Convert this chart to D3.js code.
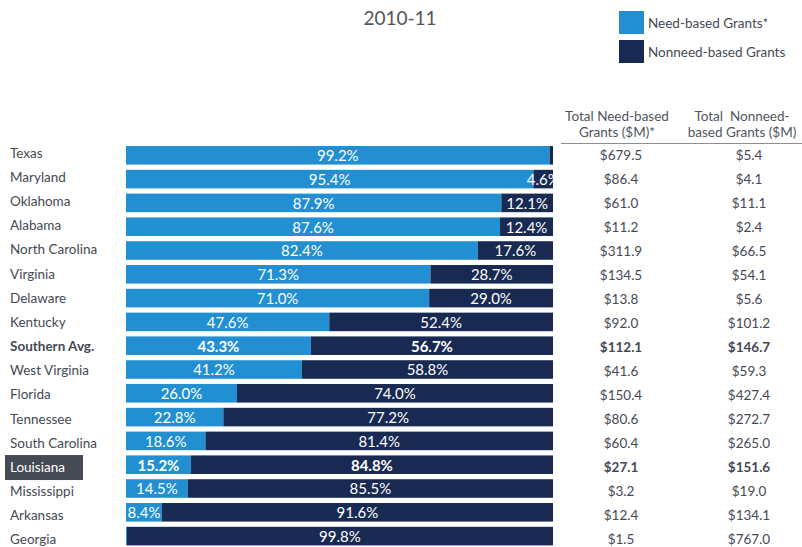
<!DOCTYPE html>
<html>
<head>
<meta charset="utf-8">
<script src="https://cdn.jsdelivr.net/npm/d3@7"></script>
<style>
  body { margin: 0; background: #fff; }
  svg { display: block; font-family: Lato, "Open Sans", sans-serif; }
</style>
</head>
<body>
<svg id="chart" width="802" height="547"></svg>
<script>
// data
const states = ["Texas", "Maryland", "Oklahoma", "Alabama", "North Carolina", "Virginia", "Delaware",
  "Kentucky", "Southern Avg.", "West Virginia", "Florida", "Tennessee", "South Carolina", "Louisiana",
  "Mississippi", "Arkansas", "Georgia"];
const needPct = [99.2, 95.4, 87.9, 87.6, 82.4, 71.3, 71.0, 47.6, 43.3, 41.2, 26.0, 22.8, 18.6, 15.2, 14.5, 8.4, 0.2];
const nonneedPct = [0.8, 4.6, 12.1, 12.4, 17.6, 28.7, 29.0, 52.4, 56.7, 58.8, 74.0, 77.2, 81.4, 84.8, 85.5, 91.6, 99.8];
const needTotal = ["$679.5", "$86.4", "$61.0", "$11.2", "$311.9", "$134.5", "$13.8", "$92.0", "$112.1", "$41.6",
  "$150.4", "$80.6", "$60.4", "$27.1", "$3.2", "$12.4", "$1.5"];
const nonneedTotal = ["$5.4", "$4.1", "$11.1", "$2.4", "$66.5", "$54.1", "$5.6", "$101.2", "$146.7", "$59.3",
  "$427.4", "$272.7", "$265.0", "$151.6", "$19.0", "$134.1", "$767.0"];
const seriesNames = ["Need-based Grants*", "Nonneed-based Grants"];
const boldRows = ["Southern Avg.", "Louisiana"];
const highlight = "Louisiana";

const colors = ["#218fd2", "#192a52"];
const textCol = "#444a54";

const svg = d3.select("#chart");

const rows = states.map((s, i) => ({
  state: s, need: needPct[i], non: nonneedPct[i], needT: needTotal[i], nonT: nonneedTotal[i],
  bold: boldRows.includes(s)
}));

const x = d3.scaleLinear().domain([0, 100]).range([126, 553]);
const y = d3.scaleBand().domain(states).range([143.4, 548]).paddingInner(0.22).paddingOuter(0.11);
// row labels and table cells sit on a slightly different pitch than the bars
const yLabel = d3.scalePoint().domain(states).range([153, 539.5]);
const yTable = d3.scalePoint().domain(states).range([155, 539.5]);

// title
svg.append("text")
  .attr("x", 400).attr("y", 25)
  .attr("text-anchor", "middle")
  .attr("font-size", 19)
  .attr("fill", "#50555d")
  .text("2010-11");

// legend
const legend = svg.append("g");
seriesNames.forEach((name, i) => {
  legend.append("rect")
    .attr("x", 619).attr("y", 11 + i * 29)
    .attr("width", 25).attr("height", 23)
    .attr("fill", colors[i]);
  legend.append("text")
    .attr("x", 648).attr("y", 27.5 + i * 29)
    .attr("font-size", 13.5)
    .attr("fill", textCol)
    .text(name);
});

// table header
const header = svg.append("g").attr("font-size", 13.5).attr("fill", "#4f5560").attr("text-anchor", "middle");
header.append("text").attr("x", 617).attr("y", 121).text("Total Need-based");
header.append("text").attr("x", 617).attr("y", 137).text("Grants ($M)*");
header.append("text").attr("x", 742).attr("y", 121).attr("xml:space", "preserve").text("Total  Nonneed-");
header.append("text").attr("x", 742).attr("y", 137).text("based Grants ($M)");
svg.append("line")
  .attr("x1", 561).attr("x2", 802).attr("y1", 143.5).attr("y2", 143.5)
  .attr("stroke", "#8a8f96").attr("stroke-width", 1.2);

// highlight box for Louisiana
svg.append("rect")
  .attr("x", 5).attr("y", yLabel(highlight) - 12)
  .attr("width", 78).attr("height", 25)
  .attr("fill", "#454b55");

// row labels
svg.append("g").selectAll("text")
  .data(rows).enter().append("text")
  .attr("x", 10)
  .attr("y", d => yLabel(d.state))
  .attr("dy", "0.36em")
  .attr("font-size", 13.5)
  .attr("font-weight", d => d.state === "Southern Avg." ? "bold" : "normal")
  .attr("fill", d => d.state === highlight ? "#fff" : textCol)
  .text(d => d.state);

// clip so labels stay inside the bar area
svg.append("clipPath").attr("id", "barclip")
  .append("rect").attr("x", x(0)).attr("y", 0).attr("width", x(100) - x(0)).attr("height", 547);

const segs = [];
rows.forEach(d => {
  segs.push({ state: d.state, x0: 0, x1: d.need, v: d.need, c: 0, bold: d.bold });
  segs.push({ state: d.state, x0: d.need, x1: 100, v: d.non, c: 1, bold: d.bold });
});

const bars = svg.append("g");
bars.selectAll("rect")
  .data(segs).enter().append("rect")
  .attr("x", d => x(d.x0))
  .attr("y", d => y(d.state))
  .attr("width", d => x(d.x1) - x(d.x0))
  .attr("height", y.bandwidth())
  .attr("fill", d => colors[d.c]);

bars.append("g").attr("clip-path", "url(#barclip)")
  .selectAll("text")
  .data(segs.filter(d => d.v >= 1)).enter().append("text")
  .attr("x", d => (x(d.x0) + x(d.x1)) / 2)
  .attr("y", d => y(d.state) + y.bandwidth() / 2 + 0.5)
  .attr("dy", "0.36em")
  .attr("text-anchor", "middle")
  .attr("font-size", 15)
  .attr("font-weight", d => d.bold ? "bold" : "normal")
  .attr("fill", "#fff")
  .text(d => d.v.toFixed(1) + "%");

// table values
const table = svg.append("g").attr("font-size", 13.5).attr("fill", textCol).attr("text-anchor", "middle");
[["needT", 621], ["nonT", 749]].forEach(([key, cx]) => {
  table.append("g").selectAll("text")
    .data(rows).enter().append("text")
    .attr("x", cx)
    .attr("y", d => yTable(d.state))
    .attr("dy", "0.36em")
    .attr("font-weight", d => d.bold ? "bold" : "normal")
    .text(d => d[key]);
});
</script>
</body>
</html>
